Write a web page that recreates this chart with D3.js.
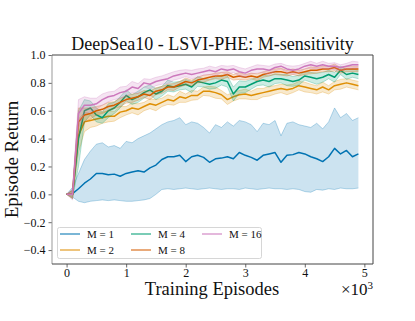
<!DOCTYPE html>
<html><head><meta charset="utf-8">
<script src="https://cdn.jsdelivr.net/npm/d3@7"></script>
<style>
html,body{margin:0;padding:0;background:#fff;}
svg{display:block;}
text{font-family:"Liberation Serif","DejaVu Serif",serif;fill:#111;}
</style></head>
<body>
<svg id="chart" width="415" height="321"></svg>
<script>
// ---------- data ----------
const episodes = d3.range(0, 4901, 100);
const seriesNames = ["M = 1", "M = 2", "M = 4", "M = 8", "M = 16"];
const colors = ["#0173b2", "#de8f05", "#029e73", "#d55e00", "#cc78bc"];

const m1Mean = [0, 0.005, 0.04, 0.08, 0.11, 0.15, 0.15, 0.14, 0.145, 0.13,
  0.15, 0.16, 0.17, 0.16, 0.19, 0.21, 0.25, 0.27, 0.27, 0.28,
  0.235, 0.27, 0.28, 0.265, 0.23, 0.255, 0.26, 0.27, 0.255, 0.30,
  0.28, 0.265, 0.245, 0.28, 0.29, 0.30, 0.23, 0.28, 0.285, 0.30,
  0.29, 0.27, 0.255, 0.235, 0.27, 0.33, 0.29, 0.315, 0.27, 0.29];
const m1Upper = [0, 0.05, 0.15, 0.25, 0.31, 0.36, 0.37, 0.34, 0.35, 0.33,
  0.38, 0.37, 0.40, 0.42, 0.44, 0.47, 0.50, 0.52, 0.53, 0.55,
  0.50, 0.52, 0.51, 0.48, 0.44, 0.50, 0.48, 0.52, 0.49, 0.53,
  0.52, 0.50, 0.45, 0.51, 0.50, 0.53, 0.42, 0.51, 0.52, 0.50,
  0.49, 0.48, 0.51, 0.47, 0.52, 0.62, 0.55, 0.58, 0.53, 0.55];
const m1Lower = [0, -0.02, -0.05, -0.06, -0.05, -0.045, -0.04, -0.045, -0.04, -0.045,
  -0.05, -0.05, -0.045, -0.04, -0.03, 0.0, 0.035, 0.04, 0.035, 0.04,
  0.045, 0.04, 0.035, 0.04, 0.045, 0.04, 0.035, 0.04, 0.04, 0.035,
  0.045, 0.04, 0.035, 0.04, 0.045, 0.04, 0.04, 0.035, 0.04, 0.035,
  0.02, 0.015, 0.035, 0.03, 0.04, 0.035, 0.045, 0.04, 0.04, 0.045];

const m2Mean = [0, 0.0, 0.42, 0.52, 0.53, 0.54, 0.55, 0.56, 0.56, 0.59,
  0.60, 0.62, 0.61, 0.63, 0.65, 0.64, 0.66, 0.68, 0.67, 0.70,
  0.69, 0.71, 0.71, 0.74, 0.74, 0.73, 0.715, 0.68, 0.70, 0.715,
  0.72, 0.71, 0.72, 0.73, 0.74, 0.75, 0.76, 0.75, 0.76, 0.78,
  0.77, 0.76, 0.75, 0.77, 0.75, 0.78, 0.79, 0.80, 0.79, 0.78];
const m2Spread = [0, 0.03, 0.12, 0.07, 0.05, 0.05, 0.04, 0.04, 0.035, 0.04,
  0.03, 0.035, 0.04, 0.03, 0.035, 0.04, 0.03, 0.035, 0.03, 0.04,
  0.03, 0.035, 0.03, 0.03, 0.035, 0.04, 0.03, 0.035, 0.03, 0.03,
  0.035, 0.03, 0.04, 0.03, 0.035, 0.03, 0.03, 0.035, 0.03, 0.03,
  0.035, 0.03, 0.03, 0.035, 0.03, 0.03, 0.035, 0.03, 0.03, 0.03];

const m4Mean = [0, 0.0, 0.40, 0.60, 0.62, 0.57, 0.55, 0.60, 0.62, 0.66,
  0.71, 0.68, 0.70, 0.73, 0.75, 0.72, 0.74, 0.78, 0.77, 0.78,
  0.79, 0.77, 0.81, 0.80, 0.79, 0.80, 0.82, 0.81, 0.72, 0.77,
  0.77, 0.79, 0.81, 0.82, 0.81, 0.83, 0.83, 0.82, 0.81, 0.82,
  0.85, 0.84, 0.83, 0.84, 0.86, 0.84, 0.89, 0.86, 0.87, 0.86];
const m4Spread = [0, 0.03, 0.2, 0.08, 0.05, 0.05, 0.04, 0.05, 0.04, 0.04,
  0.04, 0.035, 0.04, 0.04, 0.035, 0.04, 0.035, 0.04, 0.035, 0.03,
  0.035, 0.04, 0.035, 0.03, 0.035, 0.04, 0.035, 0.04, 0.05, 0.045,
  0.04, 0.035, 0.03, 0.035, 0.04, 0.035, 0.03, 0.04, 0.035, 0.035,
  0.03, 0.035, 0.04, 0.035, 0.03, 0.035, 0.03, 0.035, 0.03, 0.03];

const m8Mean = [0, 0.0, 0.52, 0.57, 0.58, 0.60, 0.61, 0.63, 0.64, 0.66,
  0.68, 0.69, 0.70, 0.72, 0.71, 0.74, 0.75, 0.77, 0.77, 0.79,
  0.81, 0.80, 0.82, 0.83, 0.84, 0.85, 0.85, 0.86, 0.84, 0.85,
  0.84, 0.85, 0.84, 0.86, 0.87, 0.88, 0.88, 0.87, 0.88, 0.87,
  0.88, 0.89, 0.89, 0.90, 0.90, 0.91, 0.89, 0.90, 0.90, 0.90];
const m8Spread = [0, 0.03, 0.1, 0.05, 0.04, 0.03, 0.03, 0.03, 0.025, 0.03,
  0.025, 0.03, 0.025, 0.025, 0.03, 0.025, 0.025, 0.02, 0.025, 0.02,
  0.025, 0.02, 0.02, 0.025, 0.02, 0.02, 0.025, 0.02, 0.02, 0.025,
  0.02, 0.02, 0.025, 0.02, 0.02, 0.02, 0.025, 0.02, 0.02, 0.02,
  0.02, 0.025, 0.02, 0.02, 0.02, 0.025, 0.02, 0.02, 0.02, 0.02];

const m16Mean = [0, 0.0, 0.58, 0.64, 0.64, 0.65, 0.68, 0.70, 0.71, 0.73,
  0.74, 0.77, 0.76, 0.80, 0.79, 0.81, 0.82, 0.83, 0.85, 0.86,
  0.87, 0.86, 0.87, 0.88, 0.89, 0.88, 0.90, 0.89, 0.90, 0.88,
  0.87, 0.89, 0.90, 0.90, 0.89, 0.91, 0.92, 0.90, 0.89, 0.90,
  0.92, 0.93, 0.92, 0.93, 0.92, 0.92, 0.91, 0.92, 0.93, 0.93];
const m16Spread = [0, 0.04, 0.1, 0.06, 0.05, 0.04, 0.04, 0.035, 0.03, 0.04,
  0.035, 0.04, 0.035, 0.03, 0.035, 0.03, 0.03, 0.035, 0.03, 0.03,
  0.025, 0.03, 0.03, 0.025, 0.03, 0.03, 0.025, 0.03, 0.025, 0.03,
  0.03, 0.025, 0.03, 0.025, 0.03, 0.025, 0.02, 0.025, 0.03, 0.025,
  0.02, 0.025, 0.02, 0.025, 0.02, 0.025, 0.02, 0.02, 0.025, 0.02];

const yTicks = [-0.4, -0.2, 0.0, 0.2, 0.4, 0.6, 0.8, 1.0];
const xTicks = [0, 1000, 2000, 3000, 4000, 5000];

// ---------- build series ----------
function withSpread(mean, spread) {
  return episodes.map((e, i) => ({x: e, m: mean[i], lo: mean[i] - spread[i], hi: mean[i] + spread[i]}));
}
const series = [
  episodes.map((e, i) => ({x: e, m: m1Mean[i], lo: m1Lower[i], hi: m1Upper[i]})),
  withSpread(m2Mean, m2Spread),
  withSpread(m4Mean, m4Spread),
  withSpread(m8Mean, m8Spread),
  withSpread(m16Mean, m16Spread)
];

// ---------- layout ----------
const L = 52, R = 373, T = 55, B = 264;
const x = d3.scaleLinear().domain([-245, 5145]).range([L, R]);
const y = d3.scaleLinear().domain([-0.5, 1.0]).range([B, T]);
const serif = "'Liberation Serif', 'DejaVu Serif', serif";

const svg = d3.select("#chart");
const plot = svg.append("g");

const area = d3.area().x(d => x(d.x)).y0(d => y(d.lo)).y1(d => y(d.hi));
const line = d3.line().x(d => x(d.x)).y(d => y(d.m));
const upperLine = d3.line().x(d => x(d.x)).y(d => y(d.hi));
const lowerLine = d3.line().x(d => x(d.x)).y(d => y(d.lo));

series.forEach((s, k) => {
  plot.append("path").attr("d", area(s)).attr("fill", colors[k]).attr("fill-opacity", 0.2);
  plot.append("path").attr("d", upperLine(s)).attr("fill", "none").attr("stroke", colors[k]).attr("stroke-opacity", 0.35).attr("stroke-width", 0.8);
  plot.append("path").attr("d", lowerLine(s)).attr("fill", "none").attr("stroke", colors[k]).attr("stroke-opacity", 0.35).attr("stroke-width", 0.8);
  plot.append("path").attr("d", line(s)).attr("fill", "none").attr("stroke", colors[k]).attr("stroke-width", 1.5).attr("stroke-linejoin", "round");
});

// ---------- axes ----------
const yAxis = svg.append("g").attr("transform", `translate(${L},0)`)
  .call(d3.axisLeft(y).tickValues(yTicks).tickFormat(d3.format(".1f")).tickSize(3.5).tickPadding(3));
const xAxis = svg.append("g").attr("transform", `translate(0,${B})`)
  .call(d3.axisBottom(x).tickValues(xTicks).tickFormat(d => d / 1000).tickSize(3.5).tickPadding(1));
[yAxis, xAxis].forEach(a => {
  a.attr("font-family", null);
  a.select(".domain").remove();
  a.selectAll(".tick line").attr("stroke", "#444").attr("stroke-width", 0.8);
  a.selectAll(".tick text").attr("font-size", 12).attr("fill", "#111").style("font-family", serif);
});

// spines
svg.append("line").attr("x1", L).attr("x2", L).attr("y1", T).attr("y2", B).attr("stroke", "#999").attr("stroke-width", 1);
svg.append("line").attr("x1", L).attr("x2", R).attr("y1", T).attr("y2", T).attr("stroke", "#444").attr("stroke-width", 1);
svg.append("line").attr("x1", R).attr("x2", R).attr("y1", T).attr("y2", B).attr("stroke", "#444").attr("stroke-width", 1);
svg.append("line").attr("x1", L).attr("x2", R).attr("y1", B).attr("y2", B).attr("stroke", "#444").attr("stroke-width", 1);

// ---------- legend ----------
const leg = svg.append("g");
leg.append("rect").attr("x", 57.5).attr("y", 227.5).attr("width", 204).attr("height", 31)
  .attr("rx", 2).attr("fill", "#fff").attr("fill-opacity", 0.8).attr("stroke", "#ccc").attr("stroke-width", 0.8);
const legPos = [[60, 234], [60, 250], [131, 234], [131, 250], [202, 234]];
seriesNames.forEach((n, k) => {
  const [lx, ly] = legPos[k];
  leg.append("line").attr("x1", lx).attr("x2", lx + 20).attr("y1", ly).attr("y2", ly)
    .attr("stroke", colors[k]).attr("stroke-width", 1.4).attr("stroke-opacity", 0.75);
  leg.append("text").attr("x", lx + 27).attr("y", ly + 4).attr("font-size", 11).text(n);
});

// ---------- titles ----------
svg.append("text").attr("x", (L + R) / 2).attr("y", 50).attr("text-anchor", "middle")
  .attr("font-size", 18).text("DeepSea10 - LSVI-PHE: M-sensitivity");
svg.append("text").attr("transform", `translate(18,${(T + B) / 2}) rotate(-90)`).attr("text-anchor", "middle")
  .attr("font-size", 19).text("Episode Return");
svg.append("text").attr("x", 212).attr("y", 295).attr("text-anchor", "middle")
  .attr("font-size", 18.5).text("Training Episodes");
const mult = svg.append("text").attr("x", 373).attr("y", 295).attr("text-anchor", "end").attr("font-size", 17);
mult.append("tspan").text("×10");
mult.append("tspan").attr("dy", -6).attr("font-size", 11).text("3");
</script>
</body></html>
